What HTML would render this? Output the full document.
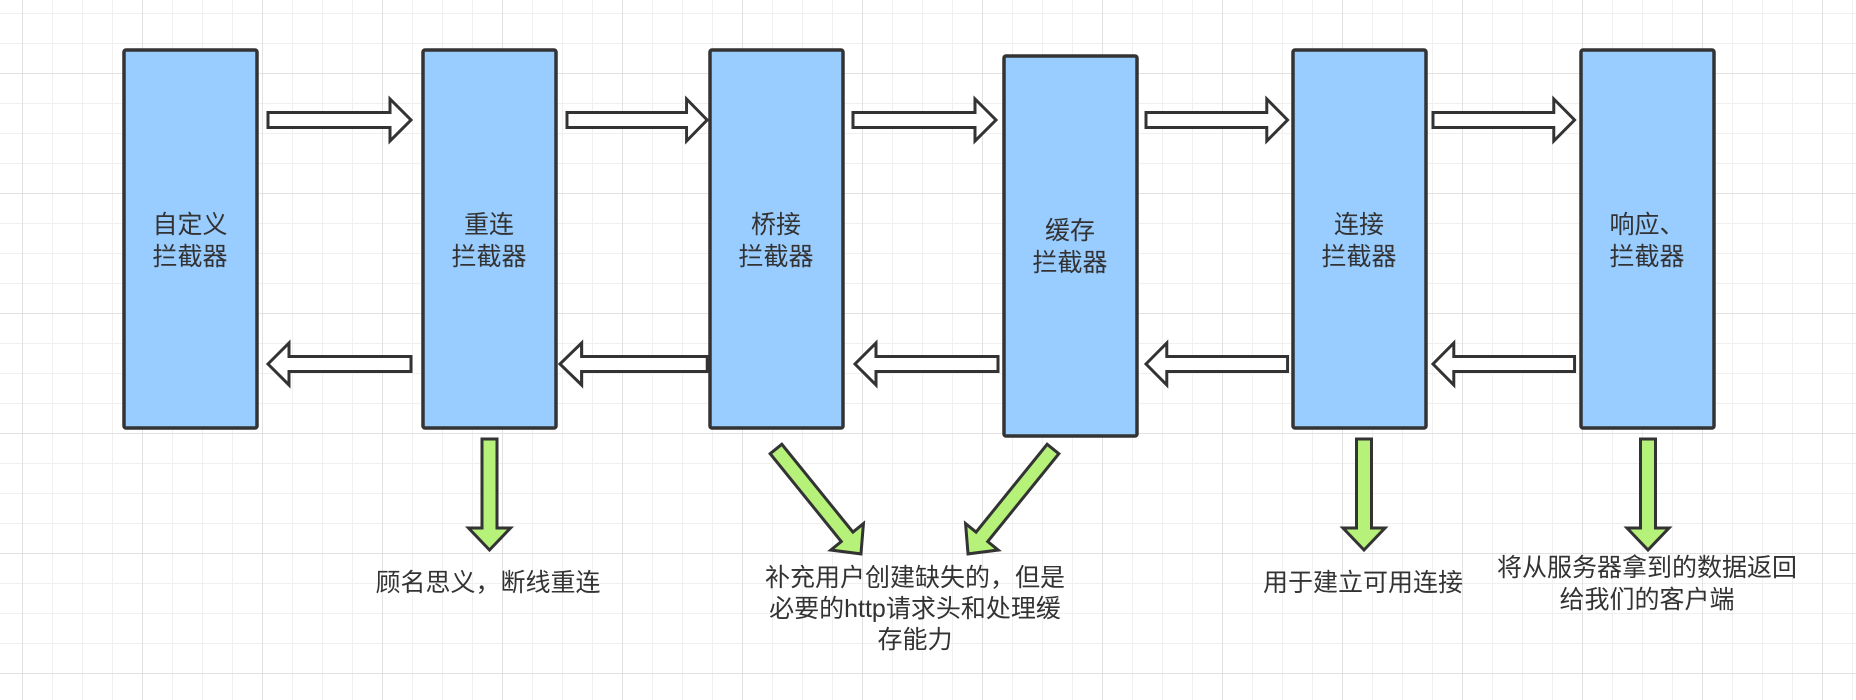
<!DOCTYPE html>
<html><head><meta charset="utf-8"><style>
html,body{margin:0;padding:0}
body{width:1856px;height:700px;overflow:hidden;background-color:#fff;
background-image:
linear-gradient(#e2e2e2 1px,transparent 1px),
linear-gradient(90deg,#e2e2e2 1px,transparent 1px),
linear-gradient(#f0f0f0 1px,transparent 1px),
linear-gradient(90deg,#f0f0f0 1px,transparent 1px);
background-size:120px 120px,120px 120px,30px 30px,30px 30px;
background-position:0 73px,22px 0,0 13px,22px 0;}
svg{position:absolute;left:0;top:0}
text{font-family:"Liberation Sans","Noto Sans CJK SC",sans-serif;font-size:25px;fill:#333;text-anchor:middle}
</style></head><body>
<svg width="1856" height="700" viewBox="0 0 1856 700">
<defs>
<polygon id="ra" points="0,-7.5 122,-7.5 122,-21 143,0 122,21 122,7.5 0,7.5"/>
<polygon id="la" points="143,-7.5 21,-7.5 21,-21 0,0 21,21 21,7.5 143,7.5"/>
</defs>
<g fill="#99ccff" stroke="#333" stroke-width="3.5">
<rect x="124" y="50" width="133" height="378" rx="2"/>
<rect x="423" y="50" width="133" height="378" rx="2"/>
<rect x="710" y="50" width="133" height="378" rx="2"/>
<rect x="1004" y="56" width="133" height="380" rx="2"/>
<rect x="1293" y="50" width="133" height="378" rx="2"/>
<rect x="1581" y="50" width="133" height="378" rx="2"/>
</g>
<g fill="#fff" stroke="#333" stroke-width="3" stroke-linejoin="miter">
<use href="#ra" transform="translate(268,120)"/>
<use href="#ra" transform="translate(567,120) scale(0.98,1)"/>
<use href="#ra" transform="translate(853,120)"/>
<use href="#ra" transform="translate(1146,120) scale(0.99,1)"/>
<use href="#ra" transform="translate(1433,120) scale(0.99,1)"/>
<use href="#la" transform="translate(268,364)"/>
<use href="#la" transform="translate(560,364) scale(1.03,1)"/>
<use href="#la" transform="translate(855,364)"/>
<use href="#la" transform="translate(1146,364) scale(0.99,1)"/>
<use href="#la" transform="translate(1433,364) scale(0.99,1)"/>
</g>
<g fill="#b6f27a" stroke="#333" stroke-width="3" stroke-linejoin="miter">
<polygon transform="translate(489.5,439)" points="-7.5,0 7.5,0 7.5,89 21,89 0,111 -21,89 -7.5,89"/>
<polygon transform="translate(1364,439)" points="-7.5,0 7.5,0 7.5,89 21,89 0,111 -21,89 -7.5,89"/>
<polygon transform="translate(1648,439)" points="-7.5,0 7.5,0 7.5,89 21,89 0,111 -21,89 -7.5,89"/>
<polygon transform="translate(776,449) rotate(-39)" points="-7.5,0 7.5,0 7.5,113 21,113 0,135 -21,113 -7.5,113"/>
<polygon transform="translate(1053,449) rotate(39)" points="-7.5,0 7.5,0 7.5,113 21,113 0,135 -21,113 -7.5,113"/>
</g>
<text x="190" y="233">自定义</text><text x="190" y="265">拦截器</text>
<text x="489" y="233">重连</text><text x="489" y="265">拦截器</text>
<text x="776" y="233">桥接</text><text x="776" y="265">拦截器</text>
<text x="1070" y="239">缓存</text><text x="1070" y="271">拦截器</text>
<text x="1359" y="233">连接</text><text x="1359" y="265">拦截器</text>
<text x="1647" y="233">响应、</text><text x="1647" y="265">拦截器</text>
<text x="488" y="591">顾名思义，断线重连</text>
<text x="915" y="586">补充用户创建缺失的，但是</text>
<text x="915" y="617">必要的http请求头和处理缓</text>
<text x="915" y="648">存能力</text>
<text x="1363" y="591">用于建立可用连接</text>
<text x="1647" y="576">将从服务器拿到的数据返回</text>
<text x="1647" y="608">给我们的客户端</text>
</svg>
</body></html>
